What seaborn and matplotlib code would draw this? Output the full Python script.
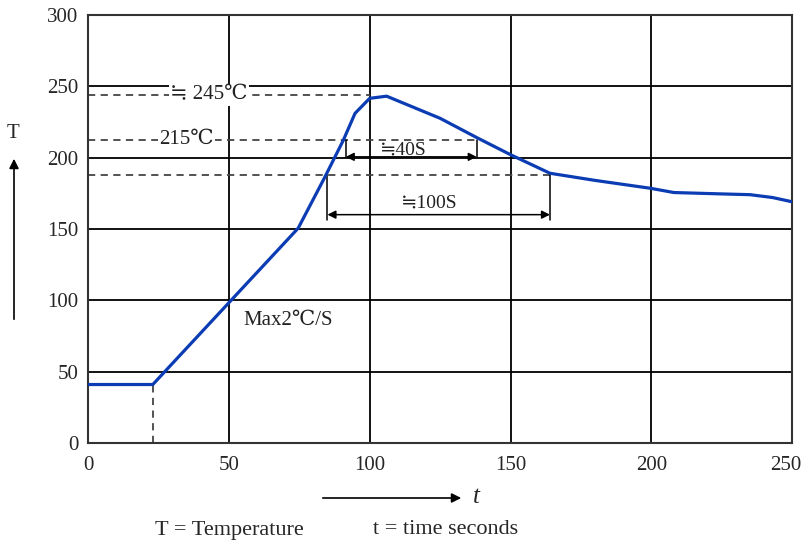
import pandas as pd
import seaborn as sns
import matplotlib
matplotlib.use("Agg")
import matplotlib.pyplot as plt
from matplotlib.patches import FancyArrowPatch
from matplotlib.transforms import ScaledTranslation

# reflow profile
time_s = [0, 23, 74.6, 84, 90.6, 94.8, 100, 106, 125, 138, 150, 164, 180, 199.6, 208, 225.5, 235, 243, 250]
temp_c = [41, 41, 150.5, 186, 212, 231, 241.5, 243, 227.5, 214, 202, 189, 184, 178.5, 175.5, 174.5, 174, 172, 169]

peak_level = 244
liquid_level = 212.5
soak_level = 187.5
x_ticks = [0, 50, 100, 150, 200, 250]
y_ticks = [0, 50, 100, 150, 200, 250, 300]

sns.set_style("white")
plt.rcParams['font.family'] = ['Liberation Serif', 'DejaVu Serif', 'DejaVu Sans']

df = pd.DataFrame({"t": time_s, "T": temp_c})

fig = plt.figure(figsize=(8.03, 5.49), dpi=100)
ax = fig.add_axes([0.1096, 0.193, 0.877, 0.78])

dash_kw = dict(color="#444444", linestyle=(0, (4, 3)), linewidth=1.3, zorder=2)
ax.plot([0, 100], [peak_level, peak_level], **dash_kw)
ax.plot([0, 138], [liquid_level, liquid_level], **dash_kw)
ax.plot([0, 164], [soak_level, soak_level], **dash_kw)
ax.plot([23, 23], [0, 41], **dash_kw)

sns.lineplot(data=df, x="t", y="T", color="#0b3cb4", linewidth=2.3, ax=ax, zorder=4)

# time window markers
ax.plot([91.5, 91.5], [liquid_level, 200.5], color="black", lw=1.1, zorder=3)
ax.plot([138, 138], [liquid_level, 200.5], color="black", lw=1.1, zorder=3)
ax.annotate("", xy=(91.5, 200.5), xytext=(138, 200.5),
            arrowprops=dict(arrowstyle="<|-|>", color="black", lw=1.1, mutation_scale=12, shrinkA=0, shrinkB=0))
ax.plot([85, 85], [soak_level, 156], color="black", lw=1.1, zorder=3)
ax.plot([164, 164], [soak_level, 156], color="black", lw=1.1, zorder=3)
ax.annotate("", xy=(85, 160), xytext=(164, 160),
            arrowprops=dict(arrowstyle="<|-|>", color="black", lw=1.1, mutation_scale=12, shrinkA=0, shrinkB=0))

txt_kw = dict(fontsize=15, color="#222222", zorder=5)
ax.text(43, peak_level, "≒ 245℃", ha="center", va="center",
        bbox=dict(facecolor="white", edgecolor="none", pad=1), **txt_kw)
ax.text(35, liquid_level, "215℃", ha="center", va="center",
        bbox=dict(facecolor="white", edgecolor="none", pad=1), **txt_kw)
ax.text(112, 205.5, "≒40S", ha="center", va="center", fontsize=14, color="#222222")
ax.text(121, 168, "≒100S", ha="center", va="center", fontsize=14, color="#222222")
ax.text(71, 86, "Max2℃/S", ha="center", va="center", fontsize=15, color="#222222")

ax.set_xlim(0, 250)
ax.set_ylim(0, 300)
ax.set_xticks(x_ticks)
ax.set_yticks(y_ticks)
ax.tick_params(length=0, labelsize=15)
ax.tick_params(axis="x", pad=9)
ax.tick_params(axis="y", pad=7)
ax.grid(True, color="black", linewidth=1.3)
ax.set_axisbelow(True)
for s in ax.spines.values():
    s.set_color("#333333")
    s.set_linewidth(1.5)
ax.set_xlabel("")
ax.set_ylabel("")

# last x label sits against the right edge, like the reference
last = ax.get_xticklabels()[-1]
last.set_horizontalalignment("right")
last.set_transform(last.get_transform() + ScaledTranslation(0.09, 0, fig.dpi_scale_trans))

# axis captions drawn in figure space
fig.text(13 / 803, 1 - 133 / 549, "T", fontsize=15, ha="center", va="center")
fig.add_artist(FancyArrowPatch((14 / 803, 1 - 322 / 549), (14 / 803, 1 - 156 / 549),
                               transform=fig.transFigure, arrowstyle="-|>",
                               mutation_scale=14, color="black", lw=1.2))
fig.add_artist(FancyArrowPatch((320 / 803, 1 - 498 / 549), (464 / 803, 1 - 498 / 549),
                               transform=fig.transFigure, arrowstyle="-|>",
                               mutation_scale=14, color="black", lw=1.2))
fig.text(476 / 803, 1 - 497 / 549, "t", fontsize=18, style="italic", ha="center", va="center")
fig.text(155 / 803, 1 - 530 / 549, "T = Temperature", fontsize=16, ha="left", va="center")
fig.text(373 / 803, 1 - 530 / 549, "t = time seconds", fontsize=16, ha="left", va="center")

fig.savefig("out.png", dpi=100)
